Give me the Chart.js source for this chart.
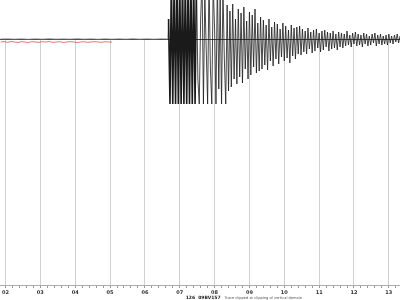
<!DOCTYPE html>
<html>
<head>
<meta charset="utf-8">
<script src="https://cdn.jsdelivr.net/npm/chart.js@4"></script>
<style>
  html, body { margin: 0; padding: 0; background: #fff; }
  #wrap { width: 400px; height: 300px; position: relative; }
</style>
</head>
<body>
<div id="wrap"><canvas id="seis"></canvas></div>
<script>
// ======== Data ========
const xMin = 1.857;
const xMax = 13.32;
const majorTicks = [2, 3, 4, 5, 6, 7, 8, 9, 10, 11, 12, 13];

// quiet trace before the event (start 1.857, step 0.2)
const preStart = 1.857;
const preStep = 0.2;
const preEvent = [0, 0.2, -0.2, 0.2, -0.3, 0.2, -0.2, 0.3, -0.2, 0.1, -0.2, 0.3, -0.2,
  0.2, -0.3, 0.2, -0.2, 0.2, -0.2, 0.3, -0.2, 0.2, -0.2, 0.2, 0];

// event (start 6.68, step 0.04), clipped at -65
const evStart = 6.68;
const evStep = 0.04;
const eventVals = [
  20, -65, 60, -65, 60, -65, 60, -65, 60, -65, 60, -65, 60, -65, 60, -65, 60, -65, 60, -65,
  60, -40, -65, 20, 60, -65, 45, -10, -65, 60, -30, -65, 55, 10, -65, 60, -50, 40, -65, 50, -20, -65,
  34, -52, 28, -48, 35, -40, 20, -45, 30, -38, 26, -44, 32, -30, 18, -40, 27, -36, 24, -28, 30, -34, 16, -32, 22,
  -30, 19, -26, 14, -31, 20, -22, 12, -27, 17, -20, 15, -25, 10, -18, 16, -22, 13, -19, 9, -24, 14, -17, 11, -20, 12, -15, 13,
  -16, 10, -13, 8, -15, 11, -10, 7, -14, 9, -12, 10, -9, 6, -13, 8, -11, 9, -8, 7, -12, 6, -10, 8, -9, 5, -11, 7, -8,
  6, -9, 5, -7, 8, -6, 4, -8, 6, -5, 7, -7, 5, -6, 4, -8, 6, -5, 5, -7, 3, -6, 5, -4, 6, -7, 4, -5, 5, -6, 3, -5, 4, -6,
  5, -4, 3, -5, 4, -3, 5, -4, 3
];
const denseEnd = 7.45; // end of the solid black onset

// second (red) trace (start 1.857, step 0.1)
const redStart = 1.857;
const redStep = 0.1;
const redVals = [-3, -2.6, -3.4, -2.5, -3, -3.5, -2.7, -3, -3.6, -2.6, -3, -3.4, -2.7, -3,
  -2.5, -3.4, -3, -2.7, -3.5, -3, -2.6, -3, -3.6, -3, -2.7, -3.4, -3, -2.6, -3, -3.4, -2.7, -3, -3];

const captionBold = '126  09BV157';
const captionText = 'Trace clipped at clipping of vertical domain';

// ======== Helpers ========
function toPoints(start, step, vals) {
  return vals.map((v, i) => ({ x: start + i * step, y: v }));
}

const traceData = toPoints(preStart, preStep, preEvent).concat(toPoints(evStart, evStep, eventVals));
const redData = toPoints(redStart, redStep, redVals);

const minorTicks = [];
for (let v = 2; v <= 13.2001; v += 0.2) minorTicks.push(Math.round(v * 10) / 10);

const captionPlugin = {
  id: 'caption',
  afterDraw(chart) {
    const ctx = chart.ctx;
    const px = chart.scales.x.getPixelForValue(7.17);
    ctx.save();
    ctx.textBaseline = 'alphabetic';
    ctx.fillStyle = '#222';
    ctx.font = 'bold 4.5px "DejaVu Sans"';
    ctx.fillText(captionBold, px, 299);
    const w = ctx.measureText(captionBold).width;
    ctx.fillStyle = '#555';
    ctx.font = '3.6px "DejaVu Sans"';
    ctx.fillText(captionText, px + w + 4, 299);
    ctx.restore();
  }
};

// ======== Chart ========
new Chart(document.getElementById('seis').getContext('2d'), {
  type: 'line',
  data: {
    datasets: [
      {
        data: redData,
        borderColor: '#e05050',
        borderWidth: 0.8,
        pointRadius: 0,
        tension: 0,
        clip: { left: 0, top: false, right: 0, bottom: 0 },
        order: 0
      },
      {
        data: traceData,
        borderColor: '#1a1a1a',
        borderWidth: 0.8,
        pointRadius: 0,
        tension: 0,
        clip: { left: 0, top: false, right: 0, bottom: 0 },
        segment: {
          borderWidth: (c) => (c.p0.parsed.x >= evStart && c.p0.parsed.x < denseEnd) ? 1.6 : 0.8,
          borderColor: (c) => c.p0.parsed.x < evStart ? '#777' : '#1a1a1a'
        },
        order: 1
      }
    ]
  },
  options: {
    responsive: true,
    maintainAspectRatio: false,
    animation: false,
    layout: { padding: { top: 39, left: 0, right: 0, bottom: 0 } },
    plugins: { legend: { display: false }, tooltip: { enabled: false } },
    scales: {
      x: {
        type: 'linear',
        min: xMin,
        max: xMax,
        afterBuildTicks: (axis) => { axis.ticks = minorTicks.map(v => ({ value: v })); },
        afterFit: (s) => { s.height = 15; },
        ticks: {
          autoSkip: false,
          maxRotation: 0,
          padding: 2,
          color: '#333',
          font: { size: 5, weight: 'bold', family: 'DejaVu Sans' },
          callback: (v) => majorTicks.includes(v) ? String(v).padStart(2, '0') : ''
        },
        grid: {
          color: (c) => (c.tick && majorTicks.includes(c.tick.value)) ? '#d0d0d0' : 'rgba(0,0,0,0)',
          tickColor: '#999',
          tickLength: 3,
          lineWidth: 1
        },
        border: { display: true, color: '#aaa' }
      },
      y: {
        type: 'linear',
        min: -246,
        max: 0,
        afterBuildTicks: (axis) => { axis.ticks = [{ value: 0 }]; },
        afterFit: (s) => { s.width = 0; },
        ticks: { display: false },
        grid: { color: '#444', lineWidth: 1, drawTicks: false },
        border: { display: false }
      }
    }
  },
  plugins: [captionPlugin]
});
</script>
</body>
</html>
